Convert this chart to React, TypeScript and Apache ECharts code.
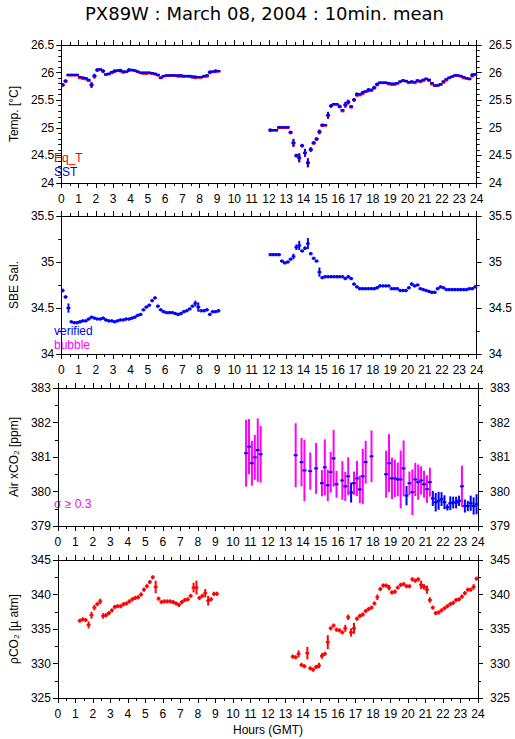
import React, { useEffect, useRef } from "react";
import * as echarts from "echarts";

// ---- time base: 10-minute slots, slot i centred at (i + 0.5) / 6 hours ----
const hourTicks = [0, 24];

// Panel 1 : temperature (°C)
const sstStartA = 0;
const sstA = [
  25.78, 25.85, 25.96, 25.96, 25.96, 25.96,
  25.92, 25.91, 25.90, 25.87, 25.78, 25.94,
  26.05, 26.06, 26.03, 25.97, 25.98, 26.01,
  26.03, 26.04, 26.04, 26.02, 26.02, 26.05,
  26.05, 26.04, 26.02, 26.00, 26.00, 26.00,
  26.00, 25.99, 25.98, 25.96, 25.91, 25.94,
  25.95, 25.95, 25.95, 25.95, 25.95, 25.95,
  25.94, 25.94, 25.94, 25.93, 25.92, 25.92,
  25.92, 25.94, 25.95, 26.01, 26.02, 26.03,
  26.03,
];
const eqTA = [
  25.77, 25.84, 25.95, 25.95, 25.95, 25.95,
  25.90, 25.89, 25.88, 25.85, 25.77, 25.93,
  26.04, 26.05, 26.02, 25.96, 25.97, 25.99,
  26.02, 26.03, 26.03, 26.00, 26.01, 26.04,
  26.04, 26.03, 26.01, 25.99, 25.98, 25.98,
  25.99, 25.98, 25.97, 25.95, 25.90, 25.93,
  25.94, 25.94, 25.95, 25.94, 25.93, 25.93,
  25.92, 25.93, 25.92, 25.91, 25.91, 25.91,
  25.91, 25.92, 25.93, 26.00, 26.01, 26.02,
  26.02,
];
const sstStartB = 72;
const sstB = [
  24.96, 24.96, 24.96, 25.01, 25.01, 25.01,
  25.01, 24.92, 24.73, 24.50, 24.46, 24.68,
  24.55, 24.37, 24.61, 24.73, 24.80, 24.93,
  25.05, 25.05, 25.23, 25.40, 25.43, 25.43,
  25.39, 25.32, 25.42, 25.47, 25.39, 25.51,
  25.61, 25.61, 25.64, 25.66, 25.69, 25.69,
  25.73, 25.79, 25.82, 25.82, 25.82, 25.81,
  25.80, 25.80, 25.81, 25.84, 25.86, 25.85,
  25.83, 25.84, 25.83, 25.86, 25.85, 25.87,
  25.89, 25.87, 25.81, 25.77, 25.77, 25.79,
  25.84, 25.88, 25.91, 25.93, 25.95, 25.95,
  25.94, 25.92, 25.90, 25.89, 25.96, 25.97,
];
const eqTB = [
  24.95, 24.95, 24.95, 25.00, 25.00, 25.00,
  25.00, 24.91, 24.72, 24.49, 24.45, 24.67,
  24.54, 24.36, 24.60, 24.72, 24.79, 24.92,
  25.04, 25.04, 25.22, 25.39, 25.42, 25.42,
  25.38, 25.30, 25.41, 25.46, 25.37, 25.50,
  25.59, 25.59, 25.62, 25.65, 25.67, 25.67,
  25.72, 25.78, 25.81, 25.81, 25.81, 25.79,
  25.78, 25.78, 25.80, 25.83, 25.85, 25.84,
  25.81, 25.82, 25.81, 25.84, 25.83, 25.85,
  25.88, 25.85, 25.79, 25.76, 25.76, 25.78,
  25.82, 25.86, 25.90, 25.92, 25.94, 25.94,
  25.93, 25.90, 25.89, 25.88, 25.94, 25.96,
];
const sstSd: Record<number, number> = {
  0: 0.03, 1: 0.03, 10: 0.05, 11: 0.04, 12: 0.03, 14: 0.03, 18: 0.03, 20: 0.03,
  23: 0.03, 46: 0.03, 51: 0.03, 53: 0.03,
  72: 0.03, 79: 0.03, 80: 0.07, 81: 0.03, 82: 0.08, 83: 0.03, 84: 0.07, 85: 0.08,
  86: 0.04, 87: 0.03, 88: 0.03, 89: 0.04, 90: 0.03, 92: 0.06, 93: 0.03,
  96: 0.03, 98: 0.05, 99: 0.04, 101: 0.03, 102: 0.03, 104: 0.03, 106: 0.03, 108: 0.03,
  109: 0.03, 142: 0.03,
};

// Panel 2 : SBE salinity
const salStartA = 0;
const salA = [
  34.69, 34.62, 34.50, 34.35, 34.34, 34.34,
  34.35, 34.36, 34.36, 34.38, 34.40, 34.39,
  34.38, 34.38, 34.39, 34.37, 34.36, 34.36,
  34.35, 34.36, 34.37, 34.37, 34.38, 34.38,
  34.39, 34.40, 34.42, 34.43, 34.48, 34.51,
  34.53, 34.58, 34.61, 34.52, 34.48, 34.46,
  34.45, 34.45, 34.45, 34.44, 34.43, 34.44,
  34.46, 34.47, 34.49, 34.52, 34.55, 34.51,
  34.47, 34.47, 34.48, 34.43, 34.46, 34.46,
  34.47,
];
const salStartB = 72;
const salB = [
  35.08, 35.08, 35.08, 35.08, 35.01, 34.99,
  35.00, 35.03, 35.06, 35.16, 35.18, 35.12,
  35.15, 35.20, 35.09, 35.04, 35.01, 34.89,
  34.83, 34.84, 34.84, 34.84, 34.84, 34.84,
  34.84, 34.84, 34.82, 34.84, 34.82, 34.76,
  34.73, 34.71, 34.71, 34.71, 34.71, 34.71,
  34.71, 34.72, 34.74, 34.74, 34.74, 34.74,
  34.71, 34.71, 34.71, 34.69, 34.69, 34.69,
  34.72, 34.76, 34.74, 34.75, 34.71, 34.70,
  34.69, 34.68, 34.67, 34.67, 34.71, 34.73,
  34.72, 34.70, 34.70, 34.70, 34.70, 34.70,
  34.70, 34.70, 34.70, 34.71, 34.71, 34.73,
];
const salSd: Record<number, number> = {
  0: 0.02, 1: 0.02, 2: 0.05, 46: 0.03, 47: 0.05, 54: 0.02,
  80: 0.03, 81: 0.03, 82: 0.05, 84: 0.02, 85: 0.06, 89: 0.05, 99: 0.02, 121: 0.02,
};

// Panel 3 : Air xCO2 (ppm)
const airSlot = [
  64, 65, 66, 67, 68, 69,
  81, 83, 84, 86, 88,
  90, 91, 92, 93, 94, 95, 97, 98, 99, 100, 101,
  102, 103, 104, 105, 107,
  112, 113, 114, 115, 116, 117, 118, 119,
  120, 121, 122, 123, 124, 125, 126, 127, 128, 129, 130, 131,
  132, 133, 134, 135, 136, 137, 138, 139, 140, 141, 142, 143,
];
const airMean = [
  381.11, 381.30, 380.82, 380.99, 381.20, 381.08,
  381.05, 380.85, 380.61, 380.59, 380.67,
  380.24, 380.70, 380.18, 380.56, 380.96, 380.21, 380.32, 380.15, 380.44, 379.97, 380.24,
  380.38, 380.06, 380.44, 380.85, 381.02,
  380.50, 380.82, 380.38, 380.38, 380.35, 380.35, 380.67, 379.88,
  380.24, 379.98, 380.35, 380.27, 380.32, 380.21, 380.07, 380.27, 379.80, 379.69, 379.73, 379.78,
  379.69, 379.54, 379.66, 379.68, 379.68, 379.73, 380.15, 379.58, 379.58, 379.66, 379.58, 379.63,
];
const airSd = [
  0.97, 0.80, 0.65, 0.65, 0.92, 0.82,
  0.93, 0.70, 0.89, 0.54, 0.74,
  0.38, 0.81, 0.46, 0.59, 0.82, 0.39, 0.56, 0.42, 0.55, 0.29, 0.34,
  0.51, 0.40, 0.80, 0.62, 0.75,
  0.68, 0.84, 0.60, 0.54, 0.49, 0.84, 0.81, 0.28,
  0.34, 0.66, 0.48, 0.51, 0.41, 0.39, 0.40, 0.42, 0.22, 0.27, 0.26, 0.20,
  0.20, 0.09, 0.20, 0.17, 0.17, 0.15, 0.60, 0.19, 0.15, 0.22, 0.25, 0.29,
];
const sigmaLimit = 0.3;

// Panel 4 : pCO2 (µatm)
const pco2StartA = 7;
const pco2A = [
  336.2, 336.4, 336.3, 335.6, 337.0,
  338.1, 338.6, 339.0, 336.9, 337.0, 337.3,
  337.7, 338.2, 338.3, 338.3, 338.6, 338.7,
  339.0, 339.3, 339.5, 339.6, 340.0, 340.7,
  341.2, 341.8, 342.5, 341.1, 339.4, 338.9,
  339.0, 339.0, 339.0, 338.9, 338.7, 338.5,
  338.9, 339.2, 339.3, 339.8, 341.0, 341.0,
  339.5, 339.8, 340.2, 339.1, 339.3, 340.1,
  340.1,
];
const pco2StartB = 80;
const pco2B = [
  331.0, 330.9, 331.4, 329.8,
  329.6, 331.5, 329.3, 329.1, 329.5, 329.7,
  331.1, 331.4, 333.1, 335.1, 335.5, 334.9,
  334.8, 334.5, 335.1, 336.7, 334.5, 335.1,
  336.5, 336.9, 337.1, 337.6, 337.9, 338.1,
  338.7, 339.6, 340.8, 341.3, 341.3, 341.0,
  340.3, 340.4, 341.0, 341.4, 341.5, 341.2,
  341.2, 342.2, 342.0, 342.2, 341.4, 341.1,
  340.7, 339.2, 338.1, 337.3, 337.4, 337.7,
  338.0, 338.3, 338.6, 338.8, 339.2, 339.3,
  339.7, 340.2, 340.7, 340.7, 341.1, 342.3,
];
const pco2Sd: Record<number, number> = {
  10: 0.5, 11: 0.5, 12: 0.4, 14: 0.4, 15: 0.4, 33: 0.9, 34: 0.3, 46: 0.7, 47: 1.0,
  50: 0.6, 51: 0.7, 52: 0.3,
  82: 0.5, 85: 0.9, 86: 0.3, 89: 0.4, 90: 0.4, 92: 1.0, 93: 0.3, 98: 0.5, 99: 0.4,
  100: 0.6, 101: 0.8, 102: 0.3, 109: 0.4, 113: 0.4, 124: 0.6, 125: 0.4, 126: 0.6,
  127: 0.4, 128: 0.3, 142: 0.4,
};

// Axis ranges
const yRanges = [
  { min: 24, max: 26.5, interval: 0.5, minor: 5, name: "Temp. [°C]", gap: 36 },
  { min: 34, max: 35.5, interval: 0.5, minor: 2, name: "SBE Sal.", gap: 37 },
  { min: 379, max: 383, interval: 1, minor: 2, name: "Air xCO₂ [ppm]", gap: 34 },
  { min: 325, max: 345, interval: 5, minor: 2, name: "ρCO₂ [µ atm]", gap: 31 },
];

const TITLE = "PX89W : March 08, 2004 : 10min. mean";
const FONT = '"Liberation Sans", Arial, Helvetica, sans-serif';
const RED = "#ff0000";
const BLUE = "#0000ff";
const MAGENTA = "#ff00ff";

const slotHour = (i: number) => (i + 0.5) / 6;

function rows(start: number, vals: number[], sd: Record<number, number>, def: number) {
  return vals.map((v, k) => {
    const i = start + k;
    return [slotHour(i), v, sd[i] ?? def];
  });
}

function makeRender(hColor: string, vColorOf: (sd: number) => string, minHalf: number) {
  return (_params: any, api: any) => {
    const h = api.value(0);
    const v = api.value(1);
    const sd = api.value(2);
    const c = api.coord([h, v]);
    const l = api.coord([h - 1 / 12, v]);
    const r = api.coord([h + 1 / 12, v]);
    const t = api.coord([h, v + sd]);
    const b = api.coord([h, v - sd]);
    const half = Math.max((b[1] - t[1]) / 2, minHalf);
    return {
      type: "group",
      children: [
        {
          type: "line",
          shape: { x1: c[0], y1: c[1] - half, x2: c[0], y2: c[1] + half },
          style: { stroke: vColorOf(sd), lineWidth: 2 },
        },
        {
          type: "line",
          shape: { x1: l[0] - 0.5, y1: c[1], x2: r[0] + 0.5, y2: c[1] },
          style: { stroke: hColor, lineWidth: 2 },
        },
      ],
    };
  };
}

export default function App() {
  const ref = useRef<HTMLDivElement>(null);

  useEffect(() => {
    if (!ref.current) return;
    const chart = echarts.init(ref.current, undefined, { renderer: "svg" });

    const tops = [45, 216, 388, 560];
    const H = 138;
    const grids = tops.map((t) => ({ left: 51, width: 427, top: t, height: H, containLabel: false }));

    const black = { color: "#000", width: 1 };
    const xAxis: any[] = [];
    const yAxis: any[] = [];
    tops.forEach((_, g) => {
      const xBase = {
        type: "value",
        gridIndex: g,
        min: hourTicks[0],
        max: hourTicks[1],
        interval: 1,
        splitLine: { show: false },
        axisLine: { show: true, onZero: false, lineStyle: black },
        axisTick: { show: true, inside: false, length: 5, lineStyle: black },
        minorTick: { show: true, splitNumber: 2, length: 3, lineStyle: black },
        minorSplitLine: { show: false },
      };
      xAxis.push({
        ...xBase,
        position: "bottom",
        axisLabel: { show: true, fontSize: 12, fontFamily: FONT, color: "#000", margin: 10 },
        name: g === 3 ? "Hours (GMT)" : "",
        nameLocation: "middle",
        nameGap: 26,
        nameTextStyle: { fontSize: 12, fontFamily: FONT, color: "#000" },
      });
      xAxis.push({ ...xBase, position: "top", axisLabel: { show: false } });

      const yr = yRanges[g];
      const yBase = {
        type: "value",
        gridIndex: g,
        min: yr.min,
        max: yr.max,
        interval: yr.interval,
        splitLine: { show: false },
        axisLine: { show: true, onZero: false, lineStyle: black },
        axisTick: { show: true, inside: false, length: 5, lineStyle: black },
        minorTick: { show: true, splitNumber: yr.minor, length: 3, lineStyle: black },
        minorSplitLine: { show: false },
      };
      yAxis.push({
        ...yBase,
        position: "left",
        axisLabel: { fontSize: 12, fontFamily: FONT, color: "#000", margin: 7 },
        name: yr.name,
        nameLocation: "middle",
        nameGap: yr.gap,
        nameTextStyle: { fontSize: 12, fontFamily: FONT, color: "#000" },
      });
      yAxis.push({
        ...yBase,
        position: "right",
        axisLabel: { fontSize: 12, fontFamily: FONT, color: "#000", margin: 12 },
      });
    });

    const blueAlways = () => BLUE;
    const redAlways = () => RED;
    const airColor = (sd: number) => (sd >= sigmaLimit ? MAGENTA : BLUE);

    const series: any[] = [
      { data: rows(sstStartA, eqTA, sstSd, 0.015), render: makeRender(RED, redAlways, 1), g: 0 },
      { data: rows(sstStartB, eqTB, sstSd, 0.015), render: makeRender(RED, redAlways, 1), g: 0 },
      { data: rows(sstStartA, sstA, sstSd, 0.015), render: makeRender(BLUE, blueAlways, 1), g: 0 },
      { data: rows(sstStartB, sstB, sstSd, 0.015), render: makeRender(BLUE, blueAlways, 1), g: 0 },
      { data: rows(salStartA, salA, salSd, 0.018), render: makeRender(BLUE, blueAlways, 1), g: 1 },
      { data: rows(salStartB, salB, salSd, 0.018), render: makeRender(BLUE, blueAlways, 1), g: 1 },
      {
        data: airSlot.map((s, k) => [slotHour(s), airMean[k], airSd[k]]),
        render: makeRender(BLUE, airColor, 1),
        g: 2,
      },
      { data: rows(pco2StartA, pco2A, pco2Sd, 0.3), render: makeRender(RED, redAlways, 1), g: 3 },
      { data: rows(pco2StartB, pco2B, pco2Sd, 0.3), render: makeRender(RED, redAlways, 1), g: 3 },
    ].map((s) => ({
      type: "custom",
      xAxisIndex: s.g * 2,
      yAxisIndex: s.g * 2,
      data: s.data,
      encode: { x: 0, y: 1 },
      renderItem: s.render,
      clip: true,
    }));

    const legend = (text: string, x: number, y: number, fill: string) => ({
      type: "text",
      x,
      y,
      style: { text, fill, fontSize: 12, fontFamily: FONT, textAlign: "left", textVerticalAlign: "middle" },
      silent: true,
    });

    chart.setOption({
      animation: false,
      backgroundColor: "#ffffff",
      grid: grids,
      xAxis,
      yAxis,
      series,
      graphic: [
        {
          type: "text",
          x: 264.5,
          y: 13,
          style: {
            text: TITLE,
            fill: "#000",
            fontSize: 18,
            fontFamily: '"DejaVu Sans", sans-serif',
            textAlign: "center",
            textVerticalAlign: "middle",
          },
        },
        legend("Eq_T", 54, 158, RED),
        legend("SST", 54, 172, BLUE),
        legend("verified", 54, 331, BLUE),
        legend("bubble", 54, 345, MAGENTA),
        legend("σ ≥ 0.3", 54, 504, MAGENTA),
      ],
    });

    return () => chart.dispose();
  }, []);

  return (
    <div
      ref={ref}
      style={{ position: "fixed", left: 0, top: 0, width: 515, height: 739, background: "#fff" }}
    />
  );
}
